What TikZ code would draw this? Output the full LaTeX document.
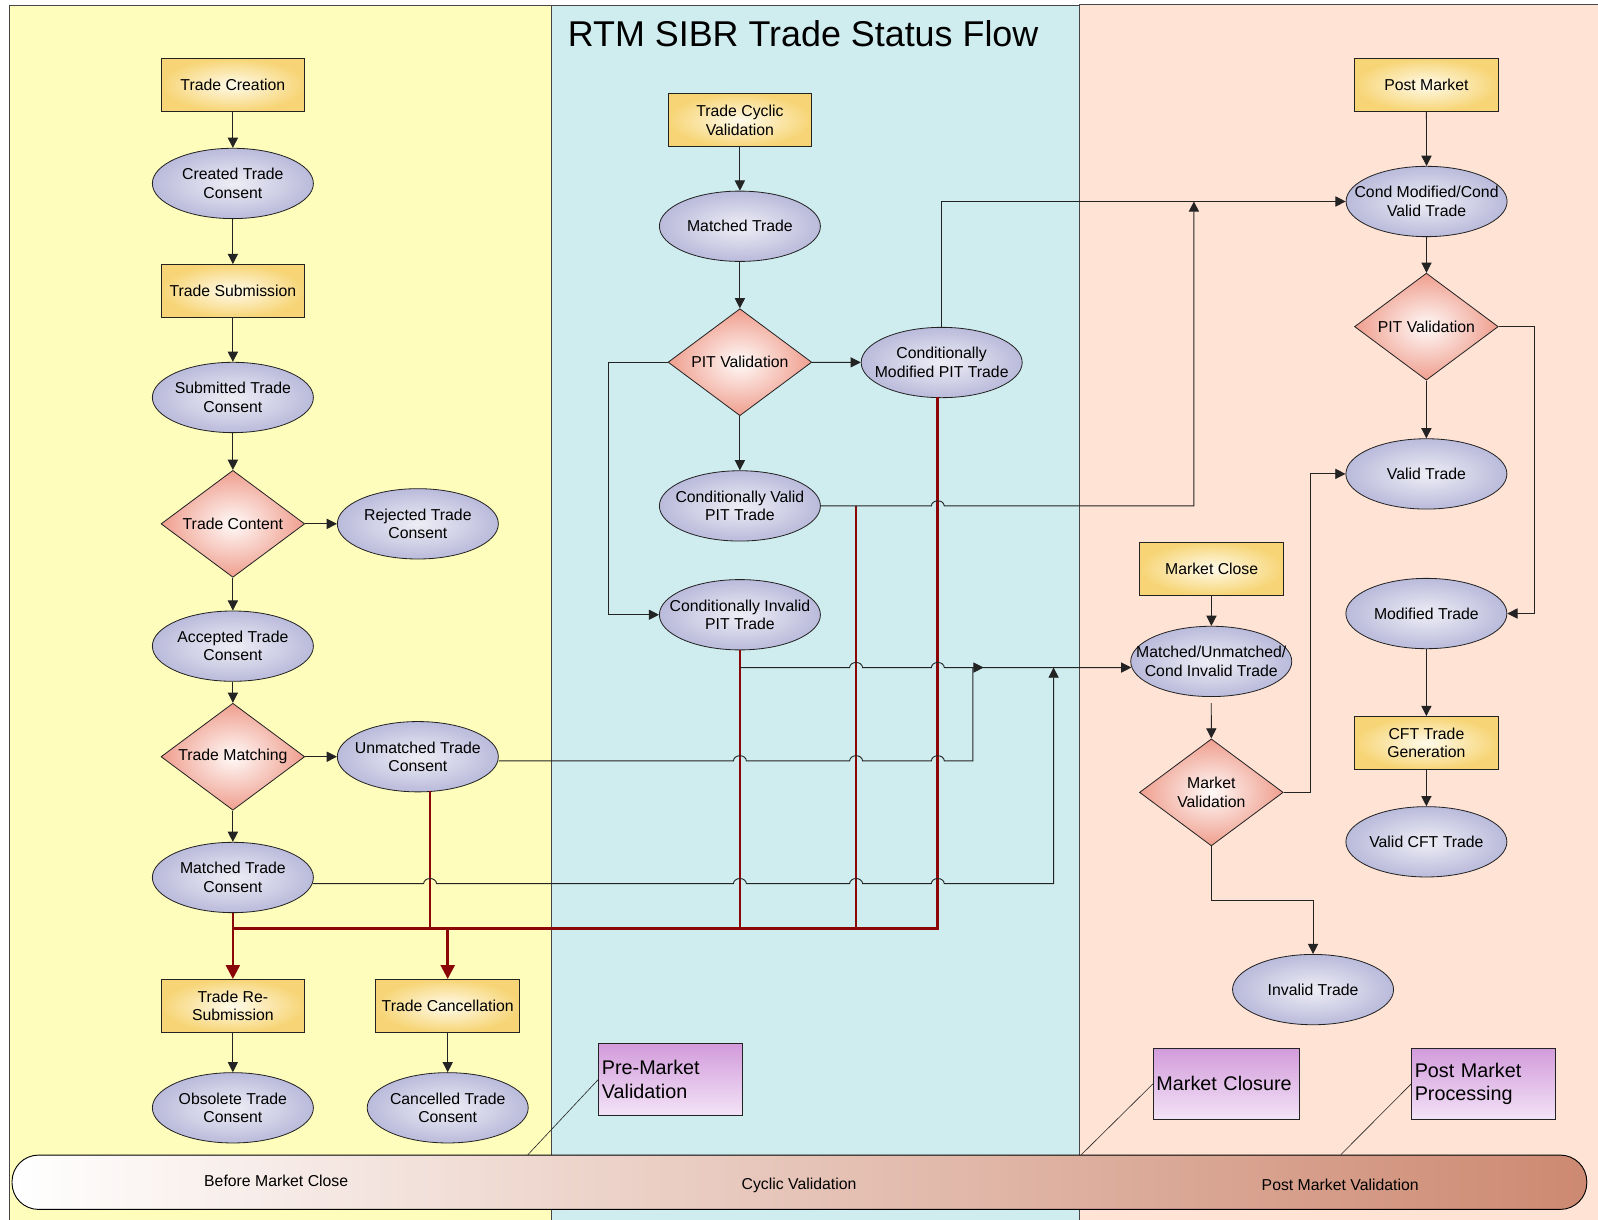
\documentclass[tikz,border=0pt]{standalone}
\usepackage{fontspec}
\setmainfont{Liberation Sans}
\usetikzlibrary{shapes.geometric,arrows.meta,calc}
\definecolor{laneY}{RGB}{255,253,188}
\definecolor{laneC}{RGB}{207,237,239}
\definecolor{laneP}{RGB}{255,227,213}
\definecolor{laneB}{RGB}{70,70,70}
\definecolor{boxO}{RGB}{247,213,118}
\definecolor{boxI}{RGB}{255,251,235}
\definecolor{ellO}{RGB}{186,186,219}
\definecolor{ellI}{RGB}{238,238,246}
\definecolor{diaO}{RGB}{239,158,142}
\definecolor{diaI}{RGB}{255,250,248}
\definecolor{purT}{RGB}{210,155,219}
\definecolor{purB}{RGB}{243,227,247}
\definecolor{barR}{RGB}{205,137,113}
\definecolor{redL}{RGB}{139,6,6}
\definecolor{lineC}{RGB}{35,35,35}
\begin{document}
\begin{tikzpicture}[x=1pt,y=-1pt,
  txt/.style={font=\fontsize{15.5}{18}\selectfont},
  procbox/.style={txt, rectangle, draw=lineC, line width=0.8pt, inner sep=0pt,
    minimum width=141pt, minimum height=52pt, align=center,
    inner color=boxI, outer color=boxO},
  state/.style={txt, ellipse, draw=lineC, line width=0.8pt, inner xsep=-30pt, inner ysep=0pt,
    minimum width=158pt, minimum height=69pt, align=center,
    inner color=ellI, outer color=ellO},
  decision/.style={txt, diamond, aspect=1.34, draw=lineC, line width=0.8pt, inner sep=0pt,
    minimum width=141pt, minimum height=105pt, align=center,
    inner color=diaI, outer color=diaO},
  note/.style={rectangle, draw=lineC, line width=0.7pt, minimum width=141pt, minimum height=70pt,
    text width=135pt, inner xsep=3pt, align=left, font=\fontsize{19.4}{23}\selectfont,
    top color=purT, bottom color=purB},
  conn/.style={draw=lineC, line width=0.9pt, -{Triangle[length=10pt,width=10pt]}},
  redl/.style={draw=redL, line width=2.6pt},
  redarr/.style={redl, -{Triangle[length=13.5pt,width=13.5pt]}},
  callout/.style={draw=lineC, line width=0.6pt},
  hop/.style={insert path={arc[start angle=180,end angle=360,x radius=6.3,y radius=5]}},
  lane/.style={draw=laneB, line width=0.9pt}
]
\useasboundingbox (0,0) rectangle (1568,1197);
% lanes
\path[fill=laneY, lane] (8.8,4.9) rectangle (541.5,1200);
\path[fill=laneC, lane] (541.5,4.9) rectangle (1059,1200);
\path[fill=laneP, lane] (1059,3.9) rectangle (1575,1200);
\node[anchor=west, inner sep=0pt, font=\fontsize{35.2}{40}\selectfont] (title) at (557,32.7) {RTM SIBR Trade Status Flow};

% callout end points on the bar
\coordinate (c1) at (518,1133);
\coordinate (c2) at (1061,1133);
\coordinate (c3) at (1315.6,1133);

% bottom bar
\draw[draw=black, line width=0.9pt, left color=white, right color=barR, rounded corners=26pt] (11.8,1133.4) rectangle (1557,1186.7);
\node[txt] (lb1) at (271,1159) {Before Market Close};
\node[txt] (lb2) at (784,1163) {Cyclic Validation};
\node[txt] (lb3) at (1315,1163) {Post Market Validation};

% notes
\node[note] (pmv) at (658.1,1059) {Pre-Market\\Validation};
\node[note, minimum width=143.5pt, text width=137.5pt] (mcl) at (1203.5,1063.4) {Market Closure};
\node[note] (pmp) at (1455.7,1063.4) {Post Market\\Processing};
\draw[callout] (pmv.west) -- (c1);
\draw[callout] (mcl.west) -- (c2);
\draw[callout] (pmp.west) -- (c3);

% left column
\node[procbox] (tcre) at (228.5,83.4) {Trade Creation};
\node[state] (created) at (228.5,180) {Created Trade\\Consent};
\node[procbox] (tsub) at (228.5,285.5) {Trade Submission};
\node[state] (submitted) at (228.5,390) {Submitted Trade\\Consent};
\node[decision] (tcon) at (228.5,514) {Trade Content};
\node[state] (rejected) at (410,514) {Rejected Trade\\Consent};
\node[state] (accepted) at (228.5,634) {Accepted Trade\\Consent};
\node[decision] (tmat) at (228.5,742.5) {Trade Matching};
\node[state] (unmatched) at (410,742.5) {Unmatched Trade\\Consent};
\node[state] (matchedc) at (228.5,861) {Matched Trade\\Consent};
\node[procbox] (tresub) at (228.5,987) {Trade Re-\\Submission};
\node[procbox] (tcanc) at (439.3,987) {Trade Cancellation};
\node[state] (obsolete) at (228.5,1087) {Obsolete Trade\\Consent};
\node[state] (cancelled) at (439.3,1087) {Cancelled Trade\\Consent};

% middle column
\node[procbox] (tcyc) at (726,118) {Trade Cyclic\\Validation};
\node[state] (mtrade) at (726,222) {Matched Trade};
\node[decision] (pit1) at (726,355.4) {PIT Validation};
\node[state] (cmod) at (924,355.7) {Conditionally\\Modified PIT Trade};
\node[state] (cval) at (726,496.4) {Conditionally Valid\\PIT Trade};
\node[state] (cinv) at (726,603.2) {Conditionally Invalid\\PIT Trade};

% right column
\node[procbox] (pm) at (1399.6,83.4) {Post Market};
\node[state] (cmcv) at (1399.8,197.7) {Cond Modified/Cond\\Valid Trade};
\node[decision] (pit2) at (1399.6,320.5) {PIT Validation};
\node[state] (valid) at (1399.6,465) {Valid Trade};
\node[state] (modified) at (1399.6,602) {Modified Trade};
\node[procbox] (cft) at (1399.6,729) {CFT Trade\\Generation};
\node[state] (validcft) at (1399.6,826) {Valid CFT Trade};
\node[procbox] (mclose) at (1188.9,558) {Market Close};
\node[state] (mu) at (1188.5,649) {Matched/Unmatched/\\Cond Invalid Trade};
\node[decision] (mval) at (1188.6,777.5) {Market\\Validation};
\node[state] (invalid) at (1288.4,971) {Invalid Trade};

% red lines
\coordinate (bus) at (0,911);
\coordinate (r1t) at (422,776);
\coordinate (r3t) at (840,496.4);
\coordinate (r4t) at (920.2,389.5);
\draw[redl] (r4t) |- (matchedc.south |- bus);
\draw[redl] (r1t) -- (r1t |- bus);
\draw[redl] (cinv.south) -- (cinv.south |- bus);
\draw[redl] (r3t) -- (r3t |- bus);
\draw[redarr] (matchedc.south) -- (tresub.north);
\draw[redarr] (tcanc.north |- bus) -- (tcanc.north);

% black connectors, left
\draw[conn] (tcre) -- (created);
\draw[conn] (created) -- (tsub);
\draw[conn] (tsub) -- (submitted);
\draw[conn] (submitted) -- (tcon);
\draw[conn] (tcon) -- (rejected);
\draw[conn] (tcon) -- (accepted);
\draw[conn] (accepted) -- (tmat);
\draw[conn] (tmat) -- (unmatched);
\draw[conn] (tmat) -- (matchedc);
\draw[conn] (tresub) -- (obsolete);
\draw[conn] (tcanc) -- (cancelled);

% middle
\draw[conn] (tcyc) -- (mtrade);
\draw[conn] (mtrade) -- (pit1);
\draw[conn] (pit1) -- (cmod);
\draw[conn] (pit1) -- (cval);
\draw[conn] (pit1.west) -- ++(-58.3,0) |- (cinv.west);
\draw[conn] (cmod.north) |- (cmcv.west);
\coordinate (j1) at (1171.5,197.7);
\draw[conn] (cval.east) -- (913.9,496.4) [hop] -- (j1 |- cval.east) -- (j1);

\coordinate (yA) at (0,655);
\coordinate (ciJ) at (cinv.south |- yA);
\draw[conn] (ciJ) -- (833.7,655) [hop] -- (913.9,655) [hop] -- ($(mu.west |- yA)+(1,0)$);

\coordinate (uJ) at (954.6,655);
\coordinate (yU) at (0,746.5);
\draw[conn] ($(unmatched.east)+(0,4)$) -- (719.7,746.5) [hop] -- (833.7,746.5) [hop] -- (913.9,746.5) [hop] -- (uJ |- yU) -- (uJ) -- ++(10.5,0);

\coordinate (mJ) at (1033.8,655);
\coordinate (yM) at (0,867);
\draw[conn] ($(matchedc.east)+(-1.2,6)$) -- (415.7,867) [hop] -- (719.7,867) [hop] -- (833.7,867) [hop] -- (913.9,867) [hop] -- (mJ |- yM) -- (mJ);

% right
\draw[conn] ($(mu.south)+(0,6)$) -- (mval.north);
\draw[conn] (mclose) -- (mu);
\draw[conn] (mval.east) -- ++(26.2,0) |- (valid.west);
\draw[conn] (mval.south) -- ++(0,53.2) -| (invalid.north);
\draw[conn] (pm) -- (cmcv);
\draw[conn] (cmcv) -- (pit2);
\draw[conn] (pit2) -- (valid);
\draw[conn] (pit2.east) -- ++(35.4,0) |- (modified.east);
\draw[conn] (modified) -- (cft);
\draw[conn] (cft) -- (validcft);
\end{tikzpicture}
\end{document}
